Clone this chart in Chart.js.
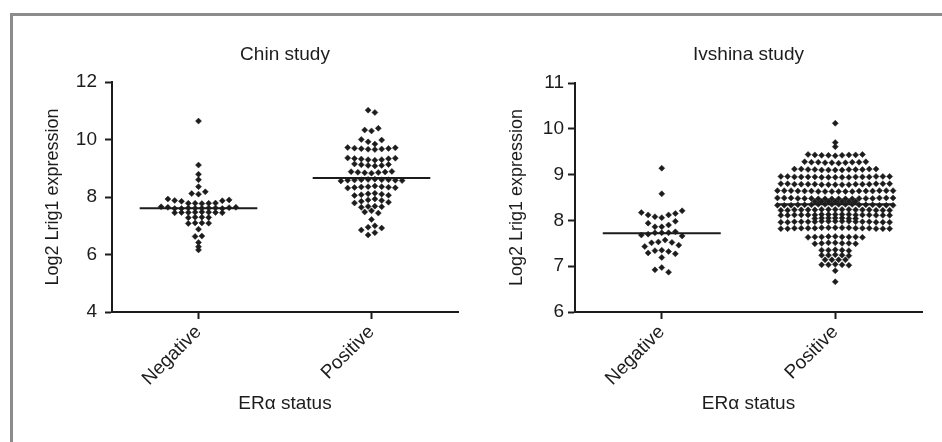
<!DOCTYPE html>
<html>
<head>
<meta charset="utf-8">
<script src="https://cdn.jsdelivr.net/npm/chart.js@4.4.1/dist/chart.umd.min.js"></script>
<style>
  html, body { margin: 0; padding: 0; background: #fff; }
  body { width: 942px; height: 442px; position: relative; overflow: hidden; }
  .frame { position: absolute; left: 10px; top: 13px; width: 1000px; height: 500px;
           border-left: 3px solid #8c8c8c; border-top: 3px solid #8c8c8c; }
  canvas { position: absolute; top: 0; }
  #chin { left: 0; }
  #ivshina { left: 471px; }
</style>
</head>
<body>
<div class="frame"></div>
<canvas id="chin" width="471" height="442"></canvas>
<canvas id="ivshina" width="471" height="442"></canvas>
<script>
const cats = ['Negative', 'Positive'];

// Chin study, Log2 Lrig1 expression
const chinNeg = [10.64, 9.11, 8.79, 8.6, 8.36, 8.18, 8.12, 8.1,
  7.93, 7.9, 7.88, 7.85, 7.78, 7.78, 7.77, 7.78, 7.79, 7.87,
  7.64, 7.62, 7.6, 7.61, 7.63, 7.6, 7.62, 7.61, 7.6, 7.62, 7.64, 7.66,
  7.47, 7.46, 7.45, 7.46, 7.47, 7.45, 7.46, 7.48,
  7.3, 7.29, 7.28, 7.3, 7.1, 7.09, 7.08, 7.1,
  6.88, 6.64, 6.63, 6.42, 6.27, 6.16];
const chinPos = [11.02, 10.94, 10.39, 10.33, 10.3, 10.0, 9.98, 9.92, 9.84,
  9.72, 9.71, 9.7, 9.69, 9.68, 9.67, 9.66, 9.65,
  9.36, 9.35, 9.34, 9.33, 9.32, 9.3, 9.3, 9.28,
  9.15, 9.13, 9.12, 9.1, 9.1, 9.08,
  8.89, 8.88, 8.87, 8.86, 8.85, 8.84, 8.83,
  8.62, 8.6, 8.6, 8.59, 8.58, 8.58, 8.57, 8.56, 8.6, 8.61,
  8.38, 8.36, 8.35, 8.34, 8.33, 8.32, 8.31, 8.36,
  8.13, 8.11, 8.1, 8.08, 8.06, 8.05,
  7.93, 7.9, 7.88, 7.85, 7.82, 7.79,
  7.68, 7.67, 7.66, 7.64,
  7.52, 7.48, 7.44,
  7.22,
  7.0, 6.95, 6.92, 6.85,
  6.76, 6.68];
const chinMeans = [7.61, 8.66];

// Ivshina study
const ivNeg = [9.14, 8.58,
  8.21, 8.17, 8.15, 8.12, 8.12, 8.08, 8.06,
  7.98, 7.94, 7.9, 7.86, 7.86,
  7.75, 7.73, 7.73, 7.73, 7.7, 7.68, 7.66,
  7.57, 7.53, 7.52, 7.51, 7.46, 7.43,
  7.35, 7.34, 7.32, 7.29, 7.27,
  7.19,
  6.97, 6.92, 6.87];
const ivPos = [10.12,
  9.7, 9.61,
  9.44, 9.44, 9.43, 9.43, 9.43, 9.42, 9.42, 9.42, 9.41,
  9.28, 9.28, 9.27, 9.27, 9.27, 9.27, 9.26, 9.26, 9.26, 9.25,
  9.12, 9.12, 9.12, 9.12, 9.11, 9.11, 9.11, 9.11, 9.11, 9.1, 9.1, 9.1, 9.1,
  8.96, 8.96, 8.96, 8.96, 8.96, 8.95, 8.95, 8.95, 8.95, 8.95, 8.95, 8.95, 8.94, 8.94, 8.94, 8.94, 8.94,
  8.8, 8.8, 8.8, 8.8, 8.8, 8.79, 8.79, 8.79, 8.79, 8.79, 8.79, 8.79, 8.78, 8.78, 8.78, 8.78, 8.78,
  8.65, 8.65, 8.65, 8.65, 8.65, 8.65, 8.64, 8.64, 8.64, 8.64, 8.64, 8.64, 8.63, 8.63, 8.63, 8.63, 8.63, 8.63,
  8.49, 8.49, 8.49, 8.49, 8.49, 8.49, 8.48, 8.48, 8.48, 8.48, 8.48, 8.48, 8.47, 8.47, 8.47, 8.47, 8.47, 8.47,
  8.41, 8.41, 8.41, 8.41, 8.41, 8.41, 8.41,
  8.35, 8.35, 8.35, 8.35, 8.35, 8.35, 8.34, 8.34, 8.34, 8.34, 8.34, 8.34, 8.33, 8.33, 8.33, 8.33, 8.33, 8.33,
  8.24, 8.24, 8.24, 8.24, 8.24, 8.23, 8.23, 8.23, 8.23, 8.23, 8.23, 8.23, 8.22, 8.22, 8.22, 8.22, 8.22,
  8.13, 8.13, 8.13, 8.13, 8.13, 8.12, 8.12, 8.12, 8.12, 8.12, 8.12, 8.12, 8.11, 8.11, 8.11, 8.11, 8.11,
  8.05, 8.05, 8.05, 8.05, 8.04, 8.04, 8.04,
  7.98, 7.98, 7.98, 7.98, 7.98, 7.97, 7.97, 7.97, 7.97, 7.97, 7.97, 7.97, 7.96, 7.96, 7.96, 7.96, 7.96,
  7.84, 7.84, 7.84, 7.84, 7.84, 7.83, 7.83, 7.83, 7.83, 7.83, 7.83, 7.83, 7.82, 7.82, 7.82, 7.82, 7.82,
  7.65, 7.65, 7.64, 7.64, 7.64, 7.64, 7.64, 7.63, 7.63,
  7.51, 7.51, 7.5, 7.5, 7.5, 7.49, 7.49,
  7.36, 7.35, 7.35, 7.35, 7.34,
  7.25, 7.24, 7.24, 7.24, 7.23,
  7.14, 7.14, 7.14, 7.14,
  7.04, 7.03, 7.03, 7.03, 7.02,
  6.9,
  6.66];
const ivMeans = [7.72, 8.35];

const ink = '#1c1c1c';
const family = "'Liberation Sans', Arial, Helvetica, sans-serif";
const meanHalf = 0.34;   // half length of the mean bar, in category units
const dotGap = 6.8;      // px between dot centres along a row
const rowGap = 2.5;      // values closer than this (px) share a row

// Prism-style column scatter: near-equal values form a row, centred on the category,
// the value nearest the mean in the middle
function rows(values, mean, ys) {
  const pts = values.map(v => ({v, py: ys.getPixelForValue(v)})).sort((a, b) => b.py - a.py);
  const groups = [];
  pts.forEach((p, i) => {
    if (i && Math.abs(p.py - pts[i - 1].py) < rowGap) groups[groups.length - 1].push(p);
    else groups.push([p]);
  });
  const out = [];
  groups.forEach(g => {
    const n = g.length;
    g.sort((a, b) => Math.abs(a.v - mean) - Math.abs(b.v - mean));
    g.forEach((p, k) => {
      const step = n % 2 ? Math.ceil(k / 2) : Math.floor(k / 2) + 0.5;
      const side = k % 2 ? -1 : 1;
      out.push({v: p.v, off: side * step * dotGap});
    });
  });
  return out;
}

function dots() {
  return {data: [], pointStyle: 'rectRot', pointRadius: 3, pointHoverRadius: 3,
    backgroundColor: ink, borderColor: ink, borderWidth: 0.5};
}

function meanLine(i, m) {
  return {data: [{x: i - meanHalf, y: m}, {x: i + meanHalf, y: m}], showLine: true,
    pointRadius: 0, borderColor: ink, borderWidth: 2};
}

function buildChart(id, c) {
  const font = {family, size: 19};
  const chart = new Chart(document.getElementById(id), {
    type: 'scatter',
    data: {datasets: [dots(), dots(), meanLine(0, c.means[0]), meanLine(1, c.means[1])]},
    options: {
      responsive: false,
      animation: false,
      layout: {padding: {left: 0, right: c.padRight, top: 0, bottom: 0}},
      plugins: {
        legend: {display: false},
        tooltip: {enabled: false},
        title: {display: true, text: c.title, fullSize: false, color: ink,
          font: {family, size: 19, weight: 'normal'},
          padding: {top: 43.6, bottom: c.titleGap}}
      },
      scales: {
        x: {
          type: 'linear', min: -0.5, max: 1.5,
          afterBuildTicks: s => { s.ticks = cats.map((t, i) => ({value: i})); },
          afterFit: s => { s.height = 130; },
          ticks: {callback: v => cats[v], minRotation: 45, maxRotation: 45, autoSkip: false,
            color: ink, font, padding: 2},
          grid: {drawOnChartArea: false, drawTicks: true, tickLength: 7, tickWidth: 2,
            color: ink, tickColor: ink},
          border: {display: true, color: ink, width: 2},
          title: {display: true, text: 'ERα status', color: ink, font,
            padding: {top: 0, bottom: 26.6}}
        },
        y: {
          min: c.yMin, max: c.yMax,
          afterFit: s => { s.width = c.axisLeft; },
          ticks: {stepSize: c.yStep, color: ink, font, padding: c.yTickPad},
          grid: {drawOnChartArea: false, drawTicks: true, tickLength: 7, tickWidth: 2,
            color: ink, tickColor: ink},
          border: {display: true, color: ink, width: 2},
          title: {display: true, text: 'Log2 Lrig1 expression', color: ink,
            font: {family, size: 18}, padding: {top: c.yTitlePad, bottom: 0}}
        }
      }
    }
  });

  const xs = chart.scales.x, ys = chart.scales.y;
  const unit = xs.getPixelForValue(1) - xs.getPixelForValue(0);
  c.groups.forEach((vals, i) => {
    chart.data.datasets[i].data = rows(vals, c.means[i], ys).map(p => ({x: i + p.off / unit, y: p.v}));
  });
  chart.update('none');
  return chart;
}

buildChart('chin', {title: 'Chin study', groups: [chinNeg, chinPos], means: chinMeans,
  yMin: 4, yMax: 12, yStep: 2, padRight: 13, axisLeft: 112, titleGap: 15.6,
  yTickPad: 8, yTitlePad: 42.2});
buildChart('ivshina', {title: 'Ivshina study', groups: [ivNeg, ivPos], means: ivMeans,
  yMin: 6, yMax: 11, yStep: 1, padRight: 20, axisLeft: 104, titleGap: 16.6,
  yTickPad: 4, yTitlePad: 35.2});
</script>
</body>
</html>
